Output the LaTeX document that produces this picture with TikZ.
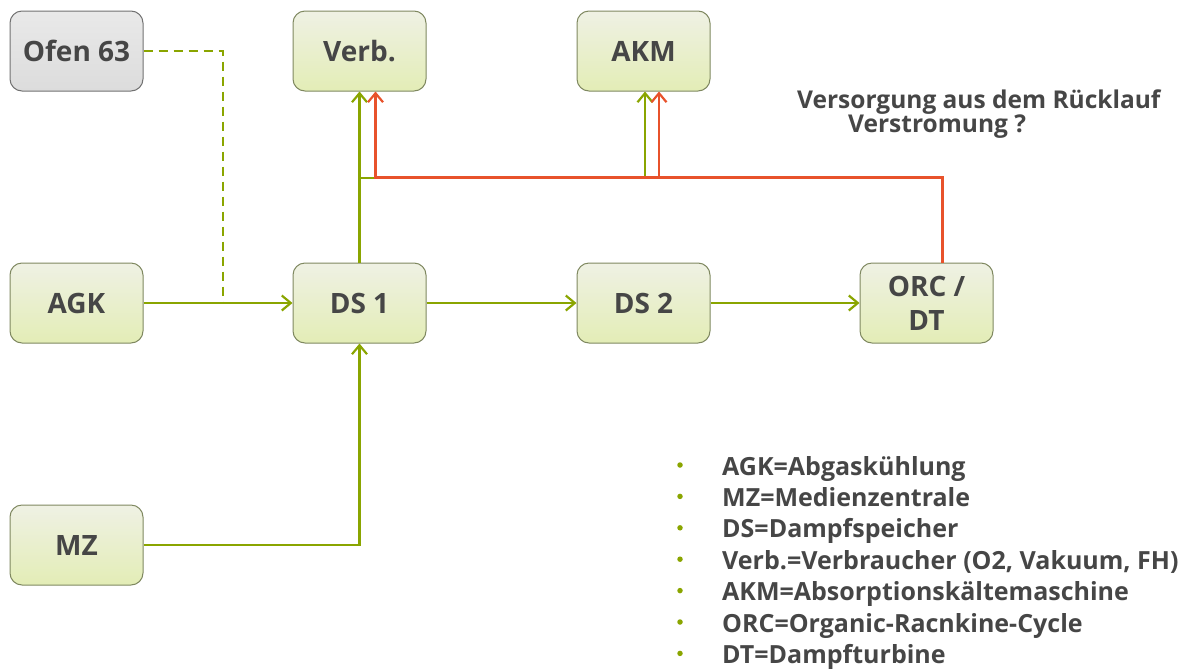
\documentclass[tikz,border=0pt]{standalone}
\usepackage{fontspec}
\setmainfont{Open Sans}
\usetikzlibrary{arrows.meta,calc}
\definecolor{lime}{HTML}{8AA500}
\definecolor{flame}{HTML}{E8522B}
\definecolor{ink}{HTML}{464646}
\definecolor{boxtop}{HTML}{EFF1E4}
\definecolor{boxmid}{HTML}{EEF1E2}
\definecolor{boxbot}{HTML}{E3EDB6}
\definecolor{boxedge}{HTML}{7F8860}
\definecolor{greytop}{HTML}{E9E9E9}
\definecolor{greybot}{HTML}{DCDCDC}
\definecolor{greyedge}{HTML}{727272}
\tikzset{
  unit/.style={rectangle, rounded corners=12pt, minimum width=133pt, minimum height=80pt,
    inner sep=2pt, draw=boxedge, line width=1pt,
    top color=boxtop, middle color=boxmid, bottom color=boxbot,
    text=ink, font=\bfseries\fontsize{28}{34}\selectfont, align=center},
  greyunit/.style={unit, draw=greyedge, top color=greytop, middle color=greytop, bottom color=greybot},
  gline/.style={draw=lime, line width=2.4pt},
  rline/.style={draw=flame, line width=2.4pt},
  tip/.style={-{Straight Barb[length=9pt,width=15pt,line width=2.2pt]}},
  legend/.style={anchor=base west, text=ink, font=\bfseries\fontsize{25}{30}\selectfont, inner sep=0pt},
  dot/.style={circle, fill=lime, minimum size=5.5pt, inner sep=0pt},
  note/.style={anchor=base west, text=ink, font=\bfseries\fontsize{24.5}{28}\selectfont, inner sep=0pt}
}
\begin{document}
\begin{tikzpicture}[x=1pt, y=-1pt]
\useasboundingbox (0,0) rectangle (1189,670);

% process units
\node[greyunit] (ofen) at (76.5,51) {Ofen 63};
\node[unit] (verb) at (359.5,51) {Verb.};
\node[unit] (akm)  at (643.5,51) {AKM};
\node[unit] (agk)  at (76.5,303) {AGK};
\node[unit] (ds1)  at (359.5,303) {DS 1};
\node[unit] (ds2)  at (643.5,303) {DS 2};
\node[unit] (orc)  at (926.5,303) {ORC /\\DT};
\node[unit] (mz)   at (76.5,545) {MZ};

% junction points of the distribution lines
\coordinate (tap)   at (223,304);
\coordinate (gbus)  at (360,178);
\coordinate (rbus)  at (659,178);

% steam supply (green)
\draw[gline, dashed, dash pattern=on 9pt off 6pt] (ofen.east) -| (tap);
\draw[gline, tip] (agk.east) -- (ds1.west);
\draw[gline, tip] (mz.east) -| (ds1.south);
\draw[gline, tip] (ds1.east) -- (ds2.west);
\draw[gline, tip] (ds2.east) -- (orc.west);
\draw[gline, tip] (ds1.north) -- (verb.south);
\draw[gline, tip] (gbus) -| ([xshift=1.5pt]akm.south);

% return line from ORC / DT (red)
\draw[rline, tip] ([xshift=16pt]orc.north) -- ++(0,-85) -| ([xshift=16pt]verb.south);
\draw[rline, tip] (rbus) -- ([xshift=15.5pt]akm.south);

% open question
\node[note] (q1) at (797,108) {Versorgung aus dem Rücklauf};
\node[note] (q2) at (848,132) {Verstromung ?};

% abbreviations
\foreach \i/\y/\t in {1/475/{AGK=Abgaskühlung},
                      2/506.4/{MZ=Medienzentrale},
                      3/537.8/{DS=Dampfspeicher},
                      4/569.2/{Verb.=Verbraucher (O2, Vakuum, FH)},
                      5/600.6/{AKM=Absorptionskältemaschine},
                      6/632/{ORC=Organic-Racnkine-Cycle},
                      7/663.4/{DT=Dampfturbine}} {
  \node[dot] (b\i) at (680,\y-10) {};
  \node[legend] (l\i) at (722,\y) {\t};
}
\end{tikzpicture}
\end{document}
